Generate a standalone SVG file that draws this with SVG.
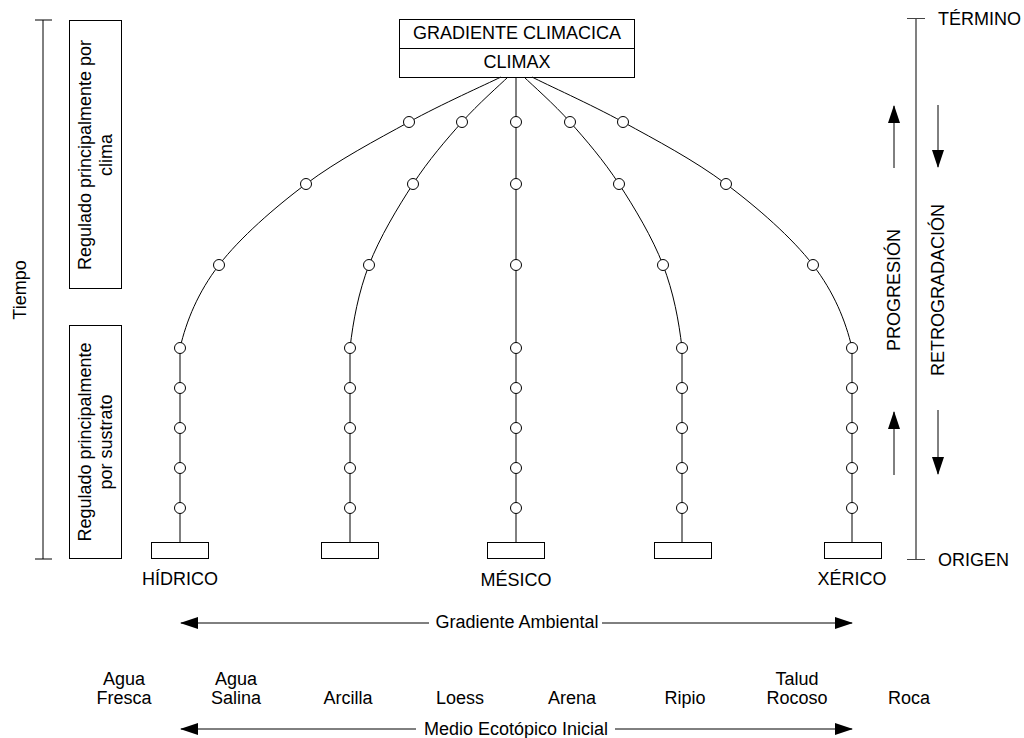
<svg xmlns="http://www.w3.org/2000/svg" width="1024" height="738" viewBox="0 0 1024 738">
<style>
text{font-family:"Liberation Sans",Arial,sans-serif;font-size:18px;fill:#000}
.m{text-anchor:middle}
.box{fill:#fff;stroke:#000;stroke-width:1}
.ln{fill:none;stroke:#000;stroke-width:1}
.c{fill:#fff;stroke:#000;stroke-width:1}
</style>
<defs>
<marker id="ah" markerUnits="userSpaceOnUse" markerWidth="18" markerHeight="12" refX="17" refY="6" orient="auto">
<path d="M0,0 L18,6 L0,12 z" fill="#000"/>
</marker>
</defs>
<rect width="1024" height="738" fill="#fff"/>

<g id="tiempo">
<line class="ln" x1="43" y1="20" x2="43" y2="559"/>
<line class="ln" x1="35" y1="20" x2="52" y2="20"/>
<line class="ln" x1="35" y1="559" x2="52" y2="559"/>
<text class="m" transform="translate(26,290) rotate(-90)">Tiempo</text>
</g>

<g id="clima-box">
<rect class="box" x="69.5" y="20.5" width="52" height="268"/>
<text class="m" transform="translate(95,155) rotate(-90)"><tspan x="0" y="-4">Regulado principalmente por</tspan><tspan x="0" y="17">clima</tspan></text>
</g>
<g id="sustrato-box">
<rect class="box" x="69.5" y="325.5" width="52" height="233"/>
<text class="m" transform="translate(95,442) rotate(-90)"><tspan x="0" y="-4">Regulado principalmente</tspan><tspan x="0" y="17">por sustrato</tspan></text>
</g>

<g id="climax">
<rect class="box" x="399.5" y="19.5" width="235" height="58"/>
<line class="ln" x1="399.5" y1="48.5" x2="634.5" y2="48.5"/>
<text class="m" x="517" y="39">GRADIENTE CLIMACICA</text>
<text class="m" x="517" y="68">CLIMAX</text>
</g>

<g id="connectors">
<path class="ln" d="M501,77 C485.7,84.5 441.5,104.2 409,122 C376.5,139.8 337.7,160.2 306,184 C274.3,207.8 240,237.7 219,265 C198,292.3 186.5,320.5 180,348 L180,542"/>
<path class="ln" d="M508,77 C500.3,84.5 477.8,104.2 462,122 C446.2,139.8 428.5,160.2 413,184 C397.5,207.8 379.5,237.7 369,265 C358.5,292.3 353.2,320.5 350,348 L350,542"/>
<path class="ln" d="M516,77 L516,542"/>
<path class="ln" d="M524,77 C531.7,84.5 554.2,104.2 570,122 C585.8,139.8 603.5,160.2 619,184 C634.5,207.8 652.5,237.7 663,265 C673.5,292.3 678.8,320.5 682,348 L682,542"/>
<path class="ln" d="M532,77 C546.3,84.5 590.5,104.2 623,122 C655.5,139.8 694.3,160.2 726,184 C757.7,207.8 792,237.7 813,265 C834,292.3 845.5,320.5 852,348 L852,542"/>
</g>

<g id="col-hidrico">
<circle class="c" cx="409" cy="122" r="5.5"/>
<circle class="c" cx="306" cy="184" r="5.5"/>
<circle class="c" cx="219" cy="265" r="5.5"/>
<circle class="c" cx="180" cy="348" r="5.5"/>
<circle class="c" cx="180" cy="388" r="5.5"/>
<circle class="c" cx="180" cy="428" r="5.5"/>
<circle class="c" cx="180" cy="468" r="5.5"/>
<circle class="c" cx="180" cy="508" r="5.5"/>
<rect class="box" x="151.5" y="542.5" width="57" height="16"/>
<text class="m" x="180" y="585">HÍDRICO</text>
</g>
<g id="col-2">
<circle class="c" cx="462" cy="122" r="5.5"/>
<circle class="c" cx="413" cy="184" r="5.5"/>
<circle class="c" cx="369" cy="265" r="5.5"/>
<circle class="c" cx="350" cy="348" r="5.5"/>
<circle class="c" cx="350" cy="388" r="5.5"/>
<circle class="c" cx="350" cy="428" r="5.5"/>
<circle class="c" cx="350" cy="468" r="5.5"/>
<circle class="c" cx="350" cy="508" r="5.5"/>
<rect class="box" x="321.5" y="542.5" width="57" height="16"/>
</g>
<g id="col-mesico">
<circle class="c" cx="516" cy="122" r="5.5"/>
<circle class="c" cx="516" cy="184" r="5.5"/>
<circle class="c" cx="516" cy="265" r="5.5"/>
<circle class="c" cx="516" cy="348" r="5.5"/>
<circle class="c" cx="516" cy="388" r="5.5"/>
<circle class="c" cx="516" cy="428" r="5.5"/>
<circle class="c" cx="516" cy="468" r="5.5"/>
<circle class="c" cx="516" cy="508" r="5.5"/>
<rect class="box" x="487.5" y="542.5" width="57" height="16"/>
<text class="m" x="516" y="586">MÉSICO</text>
</g>
<g id="col-4">
<circle class="c" cx="570" cy="122" r="5.5"/>
<circle class="c" cx="619" cy="184" r="5.5"/>
<circle class="c" cx="663" cy="265" r="5.5"/>
<circle class="c" cx="682" cy="348" r="5.5"/>
<circle class="c" cx="682" cy="388" r="5.5"/>
<circle class="c" cx="682" cy="428" r="5.5"/>
<circle class="c" cx="682" cy="468" r="5.5"/>
<circle class="c" cx="682" cy="508" r="5.5"/>
<rect class="box" x="654.5" y="542.5" width="57" height="16"/>
</g>
<g id="col-xerico">
<circle class="c" cx="623" cy="122" r="5.5"/>
<circle class="c" cx="726" cy="184" r="5.5"/>
<circle class="c" cx="813" cy="265" r="5.5"/>
<circle class="c" cx="852" cy="348" r="5.5"/>
<circle class="c" cx="852" cy="388" r="5.5"/>
<circle class="c" cx="852" cy="428" r="5.5"/>
<circle class="c" cx="852" cy="468" r="5.5"/>
<circle class="c" cx="852" cy="508" r="5.5"/>
<rect class="box" x="824.5" y="542.5" width="57" height="16"/>
<text class="m" x="852" y="585">XÉRICO</text>
</g>

<g id="escala">
<line x1="916" y1="18" x2="916" y2="559" stroke="#808080" stroke-width="2"/>
<line x1="907" y1="18.5" x2="925" y2="18.5" stroke="#444" stroke-width="1"/>
<line x1="907" y1="559.5" x2="925" y2="559.5" stroke="#444" stroke-width="1"/>
<text x="938" y="25">TÉRMINO</text>
<text x="938" y="566">ORIGEN</text>
</g>

<g id="progresion">
<line class="ln" x1="894" y1="168" x2="894" y2="106" marker-end="url(#ah)"/>
<line class="ln" x1="894" y1="475" x2="894" y2="412" marker-end="url(#ah)"/>
<text class="m" transform="translate(900,290) rotate(-90)">PROGRESIÓN</text>
</g>
<g id="retrogradacion">
<line class="ln" x1="938" y1="105" x2="938" y2="167" marker-end="url(#ah)"/>
<line class="ln" x1="938" y1="410" x2="938" y2="474" marker-end="url(#ah)"/>
<text class="m" transform="translate(944,290) rotate(-90)">RETROGRADACIÓN</text>
</g>

<g id="gradiente-ambiental">
<line class="ln" x1="429" y1="623" x2="181" y2="623" marker-end="url(#ah)"/>
<line class="ln" x1="602" y1="623" x2="852" y2="623" marker-end="url(#ah)"/>
<text class="m" x="517" y="628">Gradiente Ambiental</text>
</g>

<g id="medio">
<text class="m" x="124" y="685">Agua</text><text class="m" x="124" y="704">Fresca</text>
<text class="m" x="236" y="685">Agua</text><text class="m" x="236" y="704">Salina</text>
<text class="m" x="348" y="704">Arcilla</text>
<text class="m" x="460" y="704">Loess</text>
<text class="m" x="572" y="704">Arena</text>
<text class="m" x="685" y="704">Ripio</text>
<text class="m" x="797" y="685">Talud</text><text class="m" x="797" y="704">Rocoso</text>
<text class="m" x="909" y="704">Roca</text>
<line class="ln" x1="416" y1="729" x2="181" y2="729" marker-end="url(#ah)"/>
<line class="ln" x1="615" y1="729" x2="852" y2="729" marker-end="url(#ah)"/>
<text class="m" x="516" y="735">Medio Ecotópico Inicial</text>
</g>
</svg>
